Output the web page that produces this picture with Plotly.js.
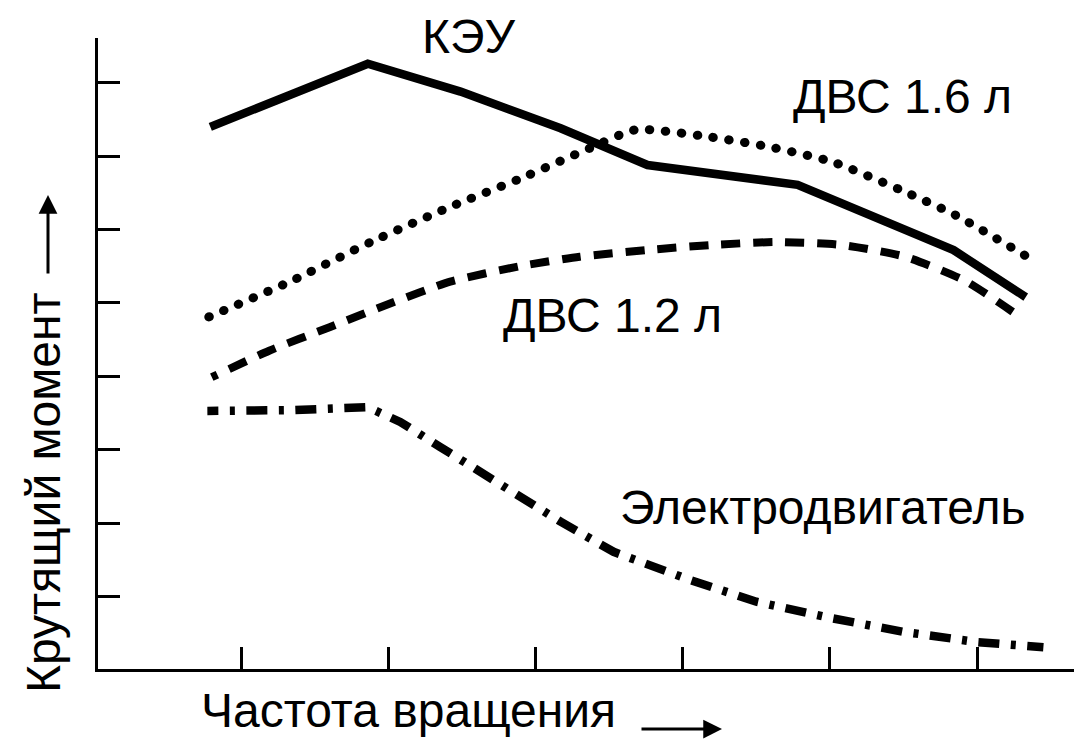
<!DOCTYPE html>
<html>
<head>
<meta charset="utf-8">
<script src="https://cdn.plot.ly/plotly-3.0.1.min.js"></script>
<style>
  html, body { margin: 0; padding: 0; background: #ffffff; }
  #chart { width: 1076px; height: 740px; }
</style>
</head>
<body>
<div id="chart"></div>
<script>
// ---- Data (relative units) ----
const keuSpeed    = [0.79, 1.86, 2.49, 3.17, 3.76, 4.78, 5.84, 6.33];
const keuTorque   = [7.40, 8.26, 7.88, 7.38, 6.88, 6.61, 5.72, 5.08];

const ice16Speed  = [0.78, 1.33, 1.88, 2.42, 2.89, 3.37, 3.68, 4.12, 4.58, 5.02, 5.48, 5.85, 6.34];
const ice16Torque = [4.81, 5.29, 5.83, 6.31, 6.69, 7.11, 7.36, 7.28, 7.13, 6.92, 6.54, 6.20, 5.63];

const ice12Speed  = [0.80, 1.19, 1.60, 2.02, 2.42, 2.89, 3.30, 3.75, 4.19, 4.63, 5.08, 5.51, 5.92, 6.27];
const ice12Torque = [3.99, 4.35, 4.67, 5.00, 5.29, 5.50, 5.63, 5.72, 5.79, 5.83, 5.79, 5.63, 5.30, 4.84];

const emSpeed     = [0.77, 1.33, 1.86, 2.08, 2.35, 2.76, 3.17, 3.53, 4.03, 4.50, 5.00, 5.50, 6.00, 6.45];
const emTorque    = [3.53, 3.54, 3.58, 3.38, 3.04, 2.53, 2.02, 1.61, 1.24, 0.93, 0.71, 0.52, 0.38, 0.31];

const xTicks = [1, 2, 3, 4, 5, 6];
const yTicks = [1, 2, 3, 4, 5, 6, 7, 8];

const labelKEU   = 'КЭУ';
const labelICE16 = 'ДВС 1.6 л';
const labelICE12 = 'ДВС 1.2 л';
const labelEM    = 'Электродвигатель';
const xTitle     = 'Частота вращения';
const yTitle     = 'Крутящий момент';

// ---- Chart ----
const FONT = 'Liberation Sans, Arial, Helvetica, sans-serif';
const TXT = 48;
const M = { l: 98, r: 2, t: 38, b: 71 };
const W = 1076, H = 740;
const plotW = W - M.l - M.r, plotH = H - M.t - M.b;
const px2x = px => (px - M.l) / plotW;
const py2y = py => (H - M.b - py) / plotH;

function label(text, cx, cy, extra) {
  return Object.assign({
    text: text, x: px2x(cx), y: py2y(cy), xref: 'paper', yref: 'paper',
    showarrow: false, xanchor: 'center', yanchor: 'middle', font: { size: TXT }
  }, extra || {});
}

const traces = [
  { x: keuSpeed, y: keuTorque, mode: 'lines', name: labelKEU,
    line: { color: '#000', width: 8.5, shape: 'linear' } },
  { x: ice16Speed, y: ice16Torque, mode: 'lines', name: labelICE16,
    line: { color: '#000', width: 9, shape: 'spline', smoothing: 0.6, dash: '0.5px,15.5px' } },
  { x: ice12Speed, y: ice12Torque, mode: 'lines', name: labelICE12,
    line: { color: '#000', width: 8, shape: 'spline', smoothing: 0.6, dash: '19px,13px' } },
  { x: emSpeed, y: emTorque, mode: 'lines', name: labelEM,
    line: { color: '#000', width: 8.5, shape: 'linear', dash: '21px,11.5px,5px,11.5px' } }
];

const axisCommon = {
  showgrid: false, zeroline: false, showline: true,
  linecolor: '#000', linewidth: 3,
  ticks: 'inside', ticklen: 22, tickwidth: 3, tickcolor: '#000',
  showticklabels: false, fixedrange: true
};

const layout = {
  width: W, height: H,
  margin: { l: M.l, r: M.r, t: M.t, b: M.b, pad: 0 },
  paper_bgcolor: '#fff', plot_bgcolor: '#fff',
  showlegend: false,
  font: { family: FONT, color: '#000', size: TXT },
  xaxis: Object.assign({}, axisCommon, { range: [0.027, 6.658], tickmode: 'array', tickvals: xTicks }),
  yaxis: Object.assign({}, axisCommon, { range: [0.0136, 8.61], tickmode: 'array', tickvals: yTicks }),
  annotations: [
    label(labelKEU, 468, 36),
    label(labelICE16, 902, 96),
    label(labelICE12, 612, 315),
    label(labelEM, 822, 507),
    label(xTitle, 408, 711),
    label(yTitle, 44, 493, { textangle: -90 }),
    { text: '', x: px2x(722), y: py2y(729), xref: 'paper', yref: 'paper', ax: -82, ay: 0,
      showarrow: true, arrowhead: 2, arrowsize: 1.25, arrowwidth: 3, arrowcolor: '#000' },
    { text: '', x: px2x(48), y: py2y(195), xref: 'paper', yref: 'paper', ax: 0, ay: 80,
      showarrow: true, arrowhead: 2, arrowsize: 1.25, arrowwidth: 3, arrowcolor: '#000' }
  ]
};

Plotly.newPlot('chart', traces, layout, { staticPlot: true, displayModeBar: false }).then(function () {
  const paths = document.querySelectorAll('.scatterlayer .trace path.js-line');
  if (paths[1]) paths[1].style.strokeLinecap = 'round';
  if (paths[2]) paths[2].style.strokeDashoffset = '13';
  if (paths[3]) paths[3].style.strokeDashoffset = '10';
});
</script>
</body>
</html>
